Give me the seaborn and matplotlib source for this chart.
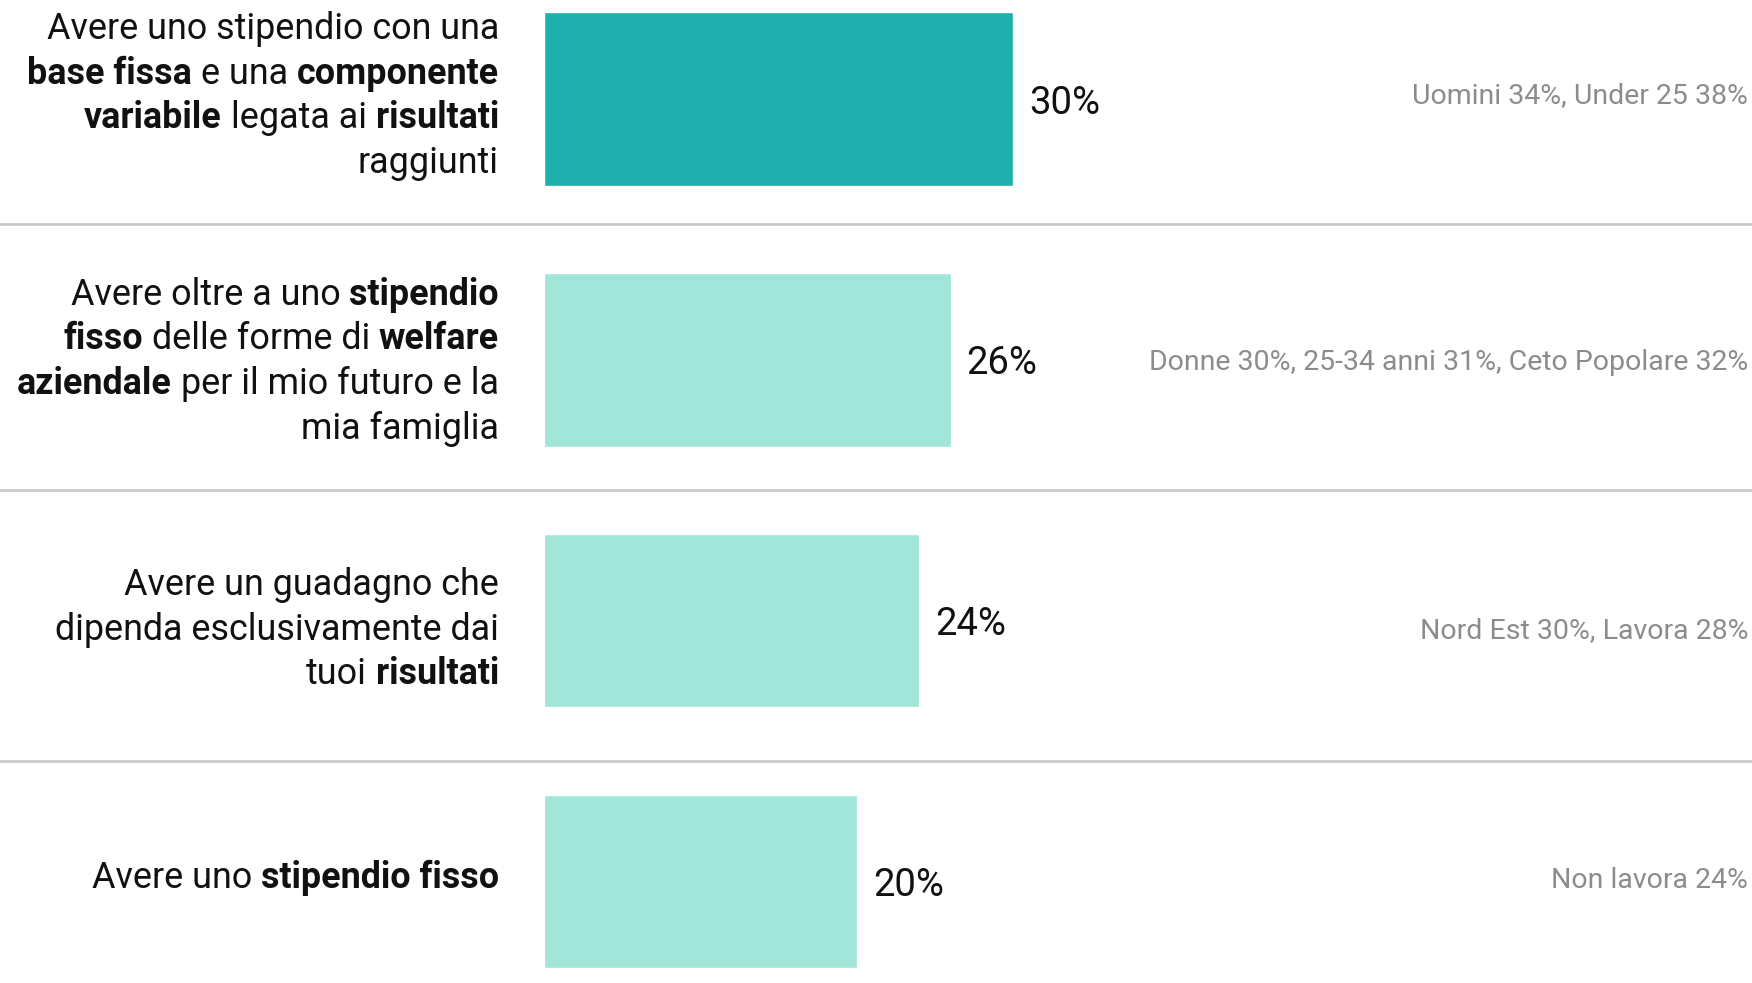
import matplotlib
matplotlib.use("Agg")
import matplotlib.pyplot as plt
import matplotlib.transforms as mtransforms
import seaborn as sns
import pandas as pd

# data
categories = [
    "Base fissa + componente variabile",
    "Stipendio fisso + welfare aziendale",
    "Guadagno legato ai risultati",
    "Stipendio fisso",
]
values = [30, 26, 24, 20]
notes = [
    "Uomini 34%, Under 25 38%",
    "Donne 30%, 25-34 anni 31%, Ceto Popolare 32%",
    "Nord Est 30%, Lavora 28%",
    "Non lavora 24%",
]
# label lines: (text, bold) pieces, joined by a space
label_lines = [
    [[("Avere uno stipendio con una", False)],
     [("base fissa", True), ("e una", False), ("componente", True)],
     [("variabile", True), ("legata ai", False), ("risultati", True)],
     [("raggiunti", False)]],
    [[("Avere oltre a uno", False), ("stipendio", True)],
     [("fisso", True), ("delle forme di", False), ("welfare", True)],
     [("aziendale", True), ("per il mio futuro e la", False)],
     [("mia famiglia", False)]],
    [[("Avere un guadagno che", False)],
     [("dipenda esclusivamente dai", False)],
     [("tuoi", False), ("risultati", True)]],
    [[("Avere uno", False), ("stipendio fisso", True)]],
]

colors = ["#1fafad", "#a1e6d9", "#a1e6d9", "#a1e6d9"]
font = "Roboto"
label_size = 25.8
value_size = 27.5
note_size = 20.5
# small vertical nudges (pixels, downwards) per row
label_nudge = [0, 5, 12, 0]
note_nudge = [-4, 3, 10, -1]

sns.set_theme(style="white")
plt.rcParams["font.family"] = [font, "DejaVu Sans"]

W, H = 1752, 983
fig = plt.figure(figsize=(W / 100, H / 100), dpi=100)
ax = fig.add_axes([544 / W, 0, (W - 544) / W, 1])

df = pd.DataFrame({"cat": categories, "value": values})
sns.barplot(data=df, x="value", y="cat", hue="cat", palette=colors,
            orient="h", width=0.665, legend=False, ax=ax, saturation=1)

px_per_unit = 15.64
ax.set_xlim(0, (W - 544) / px_per_unit)
ax.set_ylim(3.39, -0.38)
ax.axis("off")

# separators across the whole width
blend = mtransforms.blended_transform_factory(fig.transFigure, ax.transData)
for y in [0.48, 1.5, 2.54]:
    ax.plot([0, 1], [y, y], color="#c8c8c8", lw=1.9, transform=blend, clip_on=False)

# value labels
val_tr = mtransforms.offset_copy(ax.transData, fig=fig, x=0, y=-4, units="dots")
for i, v in enumerate(values):
    ax.text(v + 16 / px_per_unit, i, f"{v}%", va="center", ha="left",
            fontsize=value_size, color="#111111", transform=val_tr)

# notes on the right
for i, n in enumerate(notes):
    tr = mtransforms.offset_copy(blend, fig=fig, x=0, y=-note_nudge[i], units="dots")
    ax.text(1748 / W, i, n, ha="right", va="center", fontsize=note_size,
            color="#8c8c8c", transform=tr, clip_on=False)

# category labels, mixed weight, right-aligned
renderer = fig.canvas.get_renderer()


def width(s, bold):
    t = fig.text(0, 0, s, fontsize=label_size, fontweight="bold" if bold else "normal")
    w = t.get_window_extent(renderer).width
    t.remove()
    return w


space = width("a a", False) - width("aa", False)
line_h = 44.7
label_x = -(544 - 499) / px_per_unit
for i, lines in enumerate(label_lines):
    n = len(lines)
    for j, line in enumerate(lines):
        dy = ((n - 1) / 2 - j) * line_h - 7 - label_nudge[i]
        dx = 0
        for text, bold in reversed(line):
            tr = mtransforms.offset_copy(ax.transData, fig=fig, x=dx, y=dy, units="dots")
            ax.text(label_x, i, text, ha="right", va="baseline", transform=tr,
                    fontsize=label_size, fontweight="bold" if bold else "normal",
                    color="#111111", clip_on=False)
            dx -= width(text, bold) + space

fig.savefig("out.png", dpi=100)
